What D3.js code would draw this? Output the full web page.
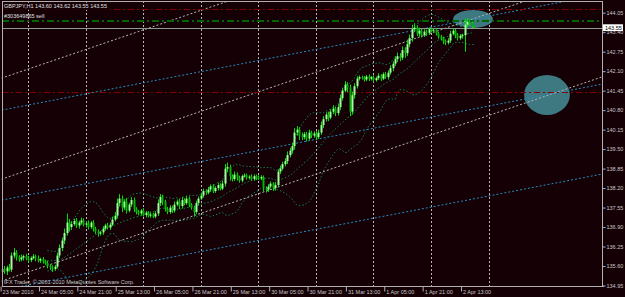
<!DOCTYPE html>
<html>
<head>
<meta charset="utf-8">
<script src="https://cdn.jsdelivr.net/npm/d3@7"></script>
<style>
html, body { margin: 0; padding: 0; background: #140005; }
svg { display: block; }
text { font-family: "Liberation Sans", Arial, sans-serif; }
</style>
</head>
<body>
<svg id="chart" width="625" height="297"></svg>
<script>
// GBPJPY H1 closes, one per bar (bar 0 = 23 Mar 13:00)
const firstOpen = 135.40;
const closes = [
    135.50,135.42,135.55,135.48,135.95,136.05,135.90,135.82,135.88,135.93,
    135.85,135.80,135.87,135.92,135.85,135.78,135.83,135.75,135.70,135.62,
    135.55,135.50,135.58,135.95,136.20,136.45,136.70,137.05,136.90,137.00,
    137.10,136.95,137.05,137.12,136.98,137.02,136.90,137.05,136.85,136.75,
    136.68,136.72,136.85,136.95,136.88,136.98,137.15,137.28,137.70,137.85,
    137.55,137.75,137.45,137.65,137.80,137.50,137.40,137.35,137.45,137.30,
    137.38,137.28,137.32,137.25,137.35,137.70,137.90,137.75,137.50,137.40,
    137.55,137.45,137.65,137.75,137.60,137.80,137.70,137.85,137.65,137.55,
    137.40,137.70,137.85,137.95,138.10,138.05,138.15,138.25,138.10,138.20,
    138.30,138.18,138.35,138.85,138.90,138.60,138.50,138.65,138.55,138.45,
    138.60,138.62,138.55,138.58,138.50,138.60,138.55,138.52,138.57,138.20,
    138.15,138.25,138.35,138.20,138.30,138.75,138.85,139.00,139.10,139.30,
    139.45,139.60,140.05,140.15,139.95,139.90,140.00,139.85,140.05,139.95,
    140.02,139.90,140.05,140.30,140.50,140.65,140.55,140.75,140.85,140.70,
    140.90,141.20,141.45,141.65,141.55,140.75,141.30,141.60,141.85,141.90,
    141.88,141.82,141.92,141.85,141.90,141.80,141.87,141.95,141.85,142.00,
    141.90,142.05,142.20,142.35,142.50,142.60,142.55,142.80,142.70,143.00,
    143.20,143.50,143.55,143.35,143.45,143.30,143.42,143.38,143.50,143.45,
    143.48,143.35,143.25,143.20,143.10,143.05,143.12,143.35,143.45,143.30,
    143.20,143.28,143.30,143.65,143.75,143.70,143.60,143.55
];
// upper / lower wick length above max(open,close) and below min(open,close)
const wickUp = [
    .08,.10,.06,.12,.10,.15,.08,.06,.10,.05, .07,.09,.05,.08,.06,.10,.05,.07,.06,.08,
    .05,.07,.06,.10,.12,.10,.15,.30,.12,.10, .08,.10,.06,.09,.07,.08,.10,.05,.08,.06,
    .07,.05,.08,.06,.09,.07,.10,.12,.15,.15, .10,.08,.12,.06,.10,.08,.06,.07,.05,.08,
    .06,.05,.07,.06,.08,.12,.10,.08,.06,.07, .08,.06,.10,.07,.08,.10,.06,.08,.07,.05,
    .06,.08,.07,.10,.08,.06,.09,.07,.08,.06, .08,.06,.10,.15,.15,.08,.06,.10,.07,.06,
    .05,.07,.06,.05,.08,.06,.05,.07,.06,.05, .06,.08,.07,.05,.10,.08,.10,.08,.10,.12,
    .10,.12,.15,.12,.08,.10,.07,.08,.10,.06, .07,.08,.10,.12,.10,.08,.10,.08,.12,.06,
    .10,.12,.10,.12,.08,.10,.12,.10,.08,.06, .05,.06,.05,.07,.04,.06,.05,.08,.05,.06,
    .07,.08,.10,.08,.10,.12,.10,.12,.10,.15, .12,.15,.15,.08,.10,.06,.08,.07,.06,.05,
    .06,.05,.07,.06,.05,.06,.08,.10,.08,.06, .07,.06,.05,.20,.12,.08,.06,.02
];
const wickDn = [
    .10,.08,.12,.06,.08,.10,.12,.08,.06,.10, .06,.08,.07,.05,.09,.06,.08,.07,.06,.10,
    .08,.10,.06,.05,.08,.10,.12,.08,.15,.10, .06,.08,.10,.07,.06,.10,.08,.06,.10,.08,
    .10,.06,.08,.07,.06,.08,.05,.06,.10,.12, .15,.08,.10,.06,.08,.10,.08,.06,.07,.05,
    .08,.06,.07,.05,.06,.08,.10,.12,.08,.07, .06,.08,.07,.06,.10,.08,.07,.06,.08,.07,
    .15,.06,.08,.05,.07,.08,.06,.08,.07,.06, .08,.06,.05,.10,.12,.15,.08,.06,.10,.07,
    .06,.05,.07,.06,.05,.06,.08,.05,.06,.12, .10,.08,.06,.10,.08,.06,.08,.06,.08,.10,
    .08,.10,.12,.10,.15,.10,.08,.10,.06,.08, .07,.10,.06,.08,.10,.08,.12,.06,.08,.10,
    .08,.10,.08,.06,.15,.15,.10,.12,.08,.06, .06,.07,.05,.08,.06,.07,.05,.06,.08,.05,
    .06,.08,.07,.10,.08,.10,.12,.08,.15,.10, .10,.12,.10,.08,.10,.08,.06,.10,.07,.06,
    .08,.06,.07,.08,.10,.08,.06,.08,.06,.10, .08,.06,.10,.55,.10,.08,.06,.00
];

const timeLabels = ["23 Mar 2010", "24 Mar 05:00", "24 Mar 21:00", "25 Mar 13:00", "26 Mar 05:00",
    "26 Mar 21:00", "29 Mar 13:00", "30 Mar 05:00", "30 Mar 21:00", "31 Mar 13:00",
    "1 Apr 05:00", "1 Apr 21:00", "2 Apr 13:00"];
const labelBars = [0, 16, 32, 48, 64, 80, 96, 112, 128, 144, 160, 176, 192];
const midnightBars = [11, 35, 59, 83, 107, 131, 155, 179, 203];
const priceTicks = [134.95, 135.60, 136.25, 136.90, 137.55, 138.20, 138.85, 139.50,
    140.15, 140.80, 141.45, 142.10, 142.75, 143.40, 144.05];

// trend lines: [bar1, price1, bar2, price2]
const grayChannel = [[0, 141.87, 200, 147.31], [0, 138.50, 200, 143.94], [0, 135.10, 200, 140.54]];
const cyanChannel = [[0, 140.80, 200, 143.89], [0, 137.80, 200, 140.89], [0, 134.80, 200, 137.89]];
// ellipses: [bar1, price1, bar2, price2]
const ellipses = [[188.2, 144.14, 204.8, 143.54], [217.8, 141.97, 236.9, 140.64]];

const orderStop = 144.16, orderOpen = 143.81, orderTake = 141.42;
const bidPrice = 143.55;
const header = "GBPJPY,H1  143.60 143.62 143.55 143.55";
const orderLabel = "#303649865 sell";
const copyright = "IFX Trader, \u00a9 2001-2010 MetaQuotes Software Corp.";

// ---- chart
var W = 625, H = 297;
var plot = { left: 1.7, right: 602.7, top: 1, bottom: 286 };
var svg = d3.select("#chart");

var x = d3.scaleLinear().domain([0, 200]).range([1.8, 1.8 + 200 * 2.398]);
var xTick = d3.scaleLinear().domain([0, 200]).range([0.6, 0.6 + 200 * 2.398]);
var y = d3.scaleLinear().domain([134.95, 144.05]).range([285.5, 12.7]);

svg.append("rect").attr("width", W).attr("height", H).attr("fill", "#140005");

svg.append("defs").append("clipPath").attr("id", "plotClip").append("rect")
    .attr("x", plot.left).attr("y", plot.top)
    .attr("width", plot.right - plot.left).attr("height", plot.bottom - plot.top);

var g = svg.append("g").attr("clip-path", "url(#plotClip)");

// day grid
g.append("g").selectAll("line").data(midnightBars).join("line")
    .attr("x1", d => Math.round(x(d)) + 0.5).attr("x2", d => Math.round(x(d)) + 0.5)
    .attr("y1", plot.top).attr("y2", plot.bottom)
    .attr("stroke", "#b8b8b8").attr("stroke-dasharray", "2,2")
    .attr("shape-rendering", "crispEdges");

// ellipses (background objects)
g.append("g").selectAll("ellipse").data(ellipses).join("ellipse")
    .attr("cx", d => (x(d[0]) + x(d[2])) / 2)
    .attr("cy", d => (y(d[1]) + y(d[3])) / 2)
    .attr("rx", d => Math.abs(x(d[2]) - x(d[0])) / 2)
    .attr("ry", d => Math.abs(y(d[3]) - y(d[1])) / 2)
    .attr("fill", "#428690").attr("opacity", 0.9);

// bars
var bars = closes.map((c, i) => {
    var o = i === 0 ? firstOpen : closes[i - 1];
    return { i: i, o: o, c: c, h: Math.max(o, c) + wickUp[i], l: Math.min(o, c) - wickDn[i] };
});

// bollinger bands 20,2
var bb = [];
for (var i = 19; i < closes.length; i++) {
    var win = closes.slice(i - 19, i + 1);
    var m = d3.mean(win), sd = d3.deviation(win) * Math.sqrt(19 / 20);
    bb.push({ i: i, m: m, up: m + 2 * sd, lo: m - 2 * sd });
}
["up", "m", "lo"].forEach(k => {
    g.append("path").datum(bb)
        .attr("fill", "none").attr("stroke", "#16804a").attr("stroke-width", 1)
        .attr("stroke-dasharray", "1.5,2")
        .attr("d", d3.line().x(d => x(d.i)).y(d => y(d[k])));
});

// trend channels
function extend(t) {
    var k = (t[3] - t[1]) / (t[2] - t[0]);
    return [[-5, t[1] + k * (-5 - t[0])], [260, t[1] + k * (260 - t[0])]];
}
var tl = d3.line().x(d => x(d[0])).y(d => y(d[1]));
g.append("g").selectAll("path").data(grayChannel).join("path")
    .attr("fill", "none").attr("stroke", "#b4b4b4").attr("stroke-dasharray", "2,2")
    .attr("d", d => tl(extend(d)));
g.append("g").selectAll("path").data(cyanChannel).join("path")
    .attr("fill", "none").attr("stroke", "#2a8cbc").attr("stroke-dasharray", "2,2")
    .attr("d", d => tl(extend(d)));

// order lines
function hline(p, color, w, dash) {
    g.append("line")
        .attr("x1", plot.left).attr("x2", plot.right)
        .attr("y1", Math.round(y(p)) + 0.5).attr("y2", Math.round(y(p)) + 0.5)
        .attr("stroke", color).attr("stroke-width", w).attr("stroke-dasharray", dash)
        .attr("shape-rendering", "crispEdges");
}
hline(orderStop, "#8a0000", 1, "6,3,2,3");
hline(orderTake, "#8a0000", 1, "6,3,2,3");
hline(orderOpen, "#006600", 2, "7,3,2,3");
hline(bidPrice, "#8d9a98", 1, null);

// candles
var cg = g.append("g");
cg.selectAll("line").data(bars).join("line")
    .attr("x1", d => Math.round(x(d.i)) + 0.5).attr("x2", d => Math.round(x(d.i)) + 0.5)
    .attr("y1", d => y(d.h)).attr("y2", d => y(d.l))
    .attr("stroke", "#00e000").attr("stroke-width", 1);
cg.selectAll("rect").data(bars).join("rect")
    .attr("x", d => Math.round(x(d.i)) - 0.5)
    .attr("width", 2)
    .attr("y", d => y(Math.max(d.o, d.c)))
    .attr("height", d => Math.max(1, Math.abs(y(d.o) - y(d.c))))
    .attr("fill", d => d.c >= d.o ? "#9cff9c" : "#00b400");

// header texts
var h1 = svg.append("text").attr("x", 4).attr("y", 8.3)
    .attr("font-size", 5.5).attr("fill", "#e0e0e0").text(header);
var bbox = h1.node().getBBox();
svg.insert("rect", "text").attr("x", bbox.x - 1).attr("y", bbox.y - 0.5)
    .attr("width", bbox.width + 4).attr("height", bbox.height + 1).attr("fill", "#140005");
svg.append("text").attr("x", 4).attr("y", 18.2)
    .attr("font-size", 5.5).attr("fill", "#e0e0e0").text(orderLabel);
svg.append("text").attr("x", 4).attr("y", 283.6)
    .attr("font-size", 5.5).attr("fill", "#c8c8c8").text(copyright);

// frame
var frame = svg.append("g").attr("stroke", "#b0b0b0").attr("shape-rendering", "crispEdges");
frame.append("line").attr("x1", plot.left).attr("x2", plot.right).attr("y1", 1.5).attr("y2", 1.5);
frame.append("line").attr("x1", 2.5).attr("x2", 2.5).attr("y1", 1).attr("y2", plot.bottom);
frame.append("line").attr("x1", 1.7).attr("x2", plot.right + 1).attr("y1", 286.5).attr("y2", 286.5);
frame.append("line").attr("x1", 602.5).attr("x2", 602.5).attr("y1", 1).attr("y2", 287);

// y axis
var yAxis = svg.append("g").attr("transform", "translate(602.5,0)")
    .call(d3.axisRight(y).tickValues(priceTicks).tickFormat(d3.format(".2f")).tickSize(3).tickPadding(1));
yAxis.select(".domain").remove();
yAxis.selectAll("line").attr("stroke", "#b0b0b0");
yAxis.selectAll("text").attr("fill", "#c8c8c8").attr("font-size", 5.5)
    .attr("font-family", "Liberation Sans, Arial, sans-serif");

// x axis
var xAxis = svg.append("g").attr("transform", "translate(0,286.5)")
    .call(d3.axisBottom(xTick).tickValues(labelBars).tickFormat((d, i) => timeLabels[i]).tickSize(5));
xAxis.select(".domain").remove();
xAxis.selectAll("line").attr("stroke", "#b0b0b0");
xAxis.selectAll("text").attr("fill", "#c8c8c8").attr("font-size", 5.5)
    .attr("font-family", "Liberation Sans, Arial, sans-serif")
    .attr("text-anchor", "start").attr("x", 1.5).attr("y", 7.8).attr("dy", 0);

// bid price box
var by = y(bidPrice);
svg.append("rect").attr("x", 603).attr("y", by - 3.4).attr("width", 20).attr("height", 6.8).attr("fill", "#ffffff");
svg.append("text").attr("x", 605).attr("y", by + 2).attr("font-size", 5.5).attr("fill", "#000")
    .text(d3.format(".2f")(bidPrice));
</script>
</body>
</html>
